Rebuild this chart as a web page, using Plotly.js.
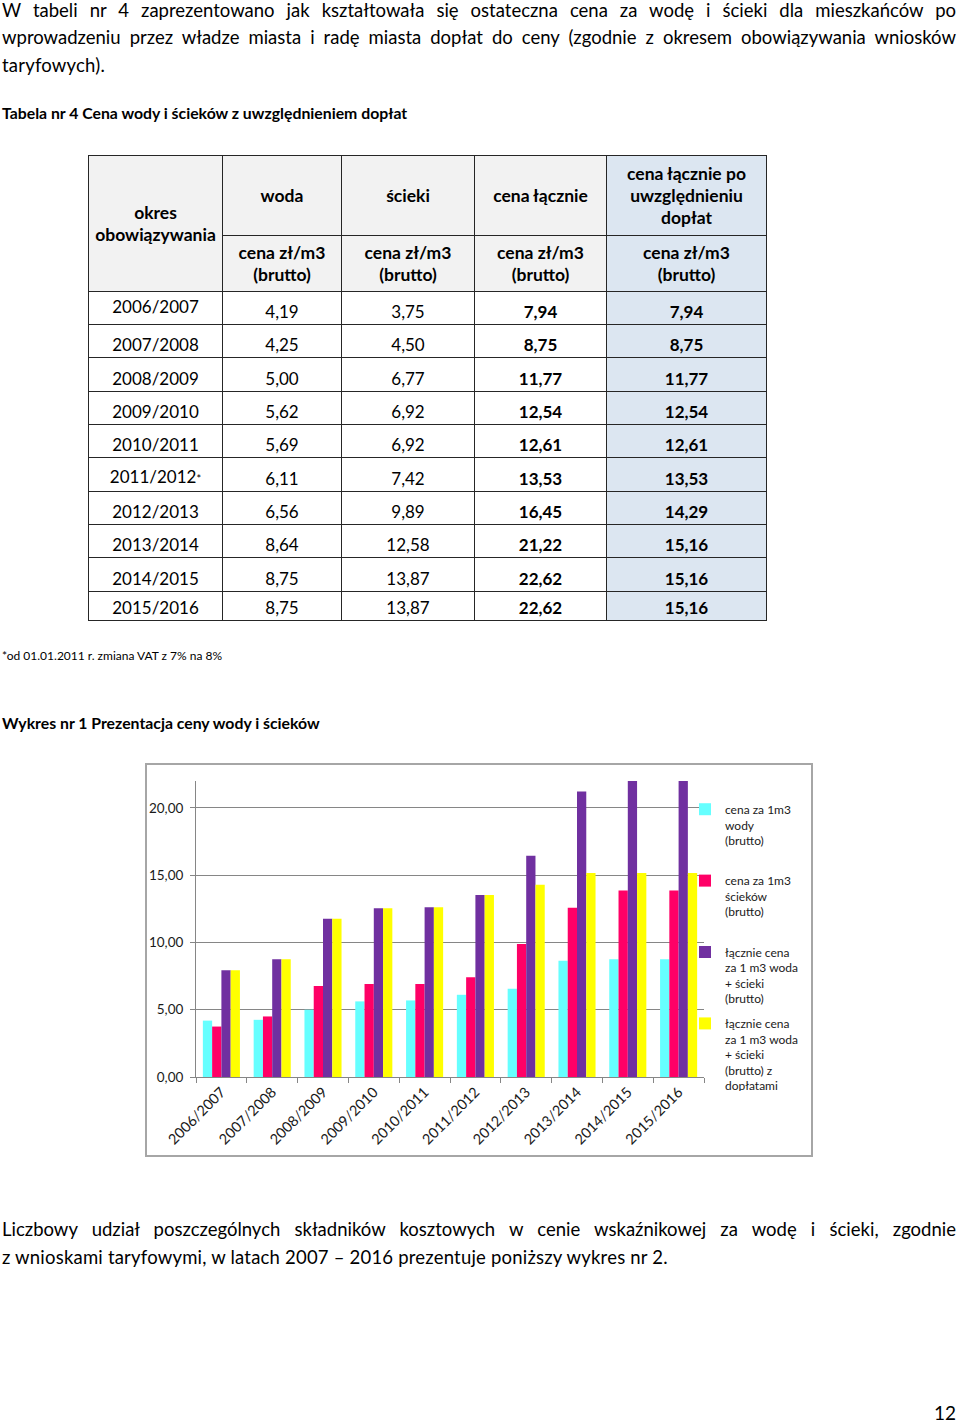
<!DOCTYPE html>
<html lang="pl">
<head>
<meta charset="utf-8">
<script src="https://cdn.plot.ly/plotly-3.0.1.min.js"></script>
<style>
  body { margin: 0; background: #fff; }
  #page { position: relative; width: 960px; height: 1424px; overflow: hidden; font-family: Lato, "Open Sans", sans-serif; color: #000; }
  .pline { position: absolute; left: 2px; width: 954px; font-size: 18.5px; line-height: 28px; white-space: nowrap; letter-spacing: 0.2px; }
  .just { text-align: justify; text-align-last: justify; white-space: normal; letter-spacing: 0; }
  .cap { position: absolute; left: 2px; font-weight: bold; font-size: 15.8px; line-height: 20px; }
  #tab { position: absolute; left: 88px; top: 155px; border-collapse: collapse; table-layout: fixed; font-size: 17px; }
  #tab td { border: 1px solid #262626; text-align: center; padding: 0; line-height: 22px; }
  #tab .hd { background: #f2f2f2; font-weight: bold; vertical-align: middle; font-size: 17.5px; }
  #tab .blue { background: #dce6f1; }
  #tab .val { vertical-align: bottom; padding-bottom: 1px; }
  #tab .b { font-weight: bold; }
  #chart-box { position: absolute; left: 145px; top: 763px; width: 668px; height: 394px; border: 2px solid #a6a6a6; box-sizing: border-box; }
  #chart { width: 664px; height: 390px; }
</style>
</head>
<body>
<div id="page">
  <div class="pline just" style="top:-4px">W tabeli nr 4 zaprezentowano jak kształtowała się ostateczna cena za wodę i ścieki dla mieszkańców po</div>
  <div class="pline just" style="top:23px">wprowadzeniu przez władze miasta i radę miasta dopłat do ceny (zgodnie z okresem obowiązywania wniosków</div>
  <div class="pline" style="top:51px">taryfowych).</div>

  <div class="cap" style="top:103px">Tabela nr 4 Cena wody i ścieków z uwzględnieniem dopłat</div>
  <table id="tab"></table>

  <div style="position:absolute; left:2px; top:648px; font-size:12px; line-height:16px;">*od 01.01.2011 r. zmiana VAT z 7% na 8%</div>

  <div class="cap" style="top:713px">Wykres nr 1 Prezentacja ceny wody i ścieków</div>
  <div id="chart-box"><div id="chart"></div></div>

  <div class="pline just" style="top:1215px">Liczbowy udział poszczególnych składników kosztowych w cenie wskaźnikowej za wodę i ścieki, zgodnie</div>
  <div class="pline" style="top:1243px">z wnioskami taryfowymi, w latach 2007 – 2016 prezentuje poniższy wykres nr 2.</div>

  <div style="position:absolute; right:4px; top:1399px; font-size:19px; line-height:28px;">12</div>
</div>

<script>
// okresy obowiązywania taryf
const okresy = ['2006/2007', '2007/2008', '2008/2009', '2009/2010', '2010/2011',
                '2011/2012', '2012/2013', '2013/2014', '2014/2015', '2015/2016'];

// ceny zł/m3 brutto
const woda       = [4.19, 4.25, 5.00, 5.62, 5.69, 6.11, 6.56, 8.64, 8.75, 8.75];
const scieki     = [3.75, 4.50, 6.77, 6.92, 6.92, 7.42, 9.89, 12.58, 13.87, 13.87];
const lacznie    = [7.94, 8.75, 11.77, 12.54, 12.61, 13.53, 16.45, 21.22, 22.62, 22.62];
const zDoplatami = [7.94, 8.75, 11.77, 12.54, 12.61, 13.53, 14.29, 15.16, 15.16, 15.16];

const naglowki = ['woda', 'ścieki', 'cena łącznie', 'cena łącznie po<br>uwzględnieniu<br>dopłat'];
const jednostka = 'cena zł/m3<br>(brutto)';
const gwiazdka = 5; // 2011/2012 - zmiana VAT

// pusta linia na końcu wyrównuje odstępy w legendzie
const nazwySerii = [
  'cena za 1m3<br>wody<br>(brutto)<br>\u00a0',
  'cena za 1m3<br>ścieków<br>(brutto)<br>\u00a0',
  'łącznie cena<br>za 1 m3 woda<br>+ ścieki<br>(brutto)',
  'łącznie cena<br>za 1 m3 woda<br>+ ścieki<br>(brutto) z<br>dopłatami'
];
const kolory = ['#66ffff', '#ff0066', '#7030a0', '#ffff00'];

const colWidths = [134, 119, 133, 132, 160];
const rowHeights = [33, 33, 34, 33, 33, 34, 33, 33, 34, 29];

function fmt(v) {
  return v.toFixed(2).replace('.', ',');
}

function buildTable() {
  const tab = document.getElementById('tab');
  let html = '<colgroup>' + colWidths.map(w => `<col style="width:${w}px">`).join('') + '</colgroup>';

  html += '<tr style="height:80px"><td class="hd" rowspan="2">okres<br>obowiązywania</td>';
  naglowki.forEach((h, i) => {
    html += `<td class="hd${i === 3 ? ' blue' : ''}">${h}</td>`;
  });
  html += '</tr><tr style="height:56px">';
  naglowki.forEach((h, i) => {
    html += `<td class="hd${i === 3 ? ' blue' : ''}">${jednostka}</td>`;
  });
  html += '</tr>';

  okresy.forEach((o, i) => {
    const label = i === gwiazdka ? `${o}<span style="font-size:11px">*</span>` : o;
    const va = i === 0 ? 'vertical-align:top; padding-top:4px;' : 'vertical-align:bottom; padding-bottom:1px;';
    html += `<tr style="height:${rowHeights[i]}px">`;
    html += `<td style="${va}">${label}</td>`;
    html += `<td class="val">${fmt(woda[i])}</td>`;
    html += `<td class="val">${fmt(scieki[i])}</td>`;
    html += `<td class="val b">${fmt(lacznie[i])}</td>`;
    html += `<td class="val b blue">${fmt(zDoplatami[i])}</td>`;
    html += '</tr>';
  });
  tab.innerHTML = html;
}

function drawChart() {
  const serie = [woda, scieki, lacznie, zDoplatami];

  const traces = serie.map((s, i) => ({
    type: 'bar',
    x: okresy,
    y: s,
    name: nazwySerii[i],
    legendgroup: 'g' + i,
    marker: {color: kolory[i], line: {width: 0}},
    hoverinfo: 'skip'
  }));

  const fam = 'Lato, "Open Sans", sans-serif';
  // plot area: 508 px wide out of 613 px of paper
  const plotW = 613;
  const layout = {
    width: 664,
    height: 390,
    margin: {l: 49, r: 2, t: 16, b: 78},
    paper_bgcolor: '#fff',
    plot_bgcolor: '#fff',
    font: {family: fam, size: 13, color: '#1a1a1a'},
    separators: ', ',
    barmode: 'group',
    bargap: 0.27,
    bargroupgap: 0,
    showlegend: true,
    legend: {
      x: (538 - 49) / plotW, y: 0.953, xanchor: 'left', yanchor: 'top',
      valign: 'top',
      traceorder: 'grouped',
      tracegroupgap: 6,
      bgcolor: 'rgba(0,0,0,0)',
      font: {family: fam, size: 12, color: '#1a1a1a'}
    },
    xaxis: {
      type: 'category',
      domain: [0, 508 / plotW],
      tickangle: -45,
      ticks: 'outside',
      tickson: 'boundaries',
      ticklen: 5,
      tickcolor: '#868686',
      showline: true,
      linecolor: '#868686',
      linewidth: 1,
      showgrid: false,
      tickfont: {size: 14.5}
    },
    yaxis: {
      range: [0, 22],
      tickvals: [0, 5, 10, 15, 20],
      tickformat: '.2f',
      ticks: 'outside',
      ticklen: 5,
      ticklabelstandoff: 4,
      tickcolor: '#868686',
      showline: true,
      linecolor: '#868686',
      linewidth: 1,
      gridcolor: '#868686',
      gridwidth: 1,
      zeroline: false,
      tickfont: {size: 13.5}
    }
  };

  Plotly.newPlot('chart', traces, layout, {displayModeBar: false, staticPlot: true});
}

window.addEventListener('load', () => {
  buildTable();
  drawChart();
});
</script>
</body>
</html>
